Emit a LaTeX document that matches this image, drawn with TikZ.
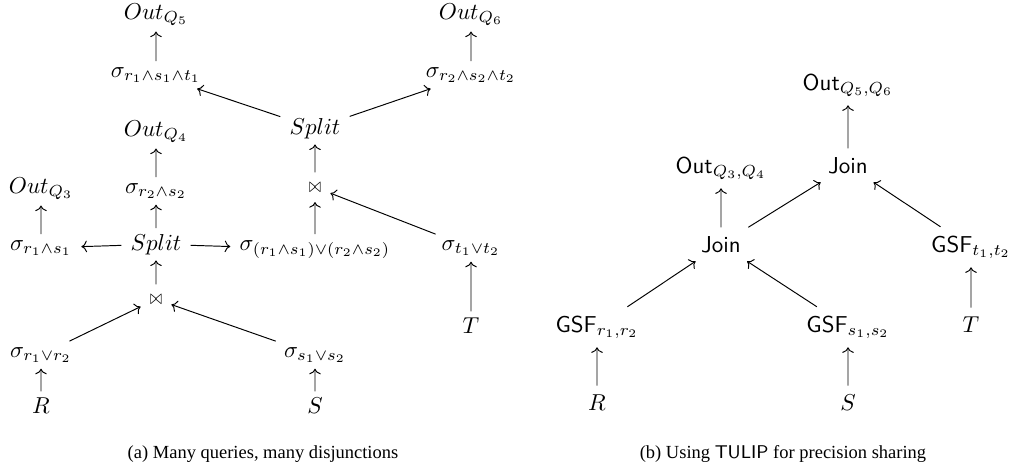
\documentclass[tikz,border=0pt]{standalone}
\usepackage{fontspec}
\usetikzlibrary{arrows.meta}
\newfontfamily\capfont{Liberation Serif}
\begin{document}
\begin{tikzpicture}[x=0.4653pt,y=-0.4653pt,
  n/.style={inner xsep=3.9pt,inner ysep=2.4pt,anchor=base,scale=1.07},
  nb/.style={inner xsep=3.9pt,inner ysep=3.6pt,anchor=base,scale=1.07},
  ar/.style={-{To[length=2.6pt,width=5.4pt]},line width=0.45pt},
  captext/.style={anchor=base,inner sep=0pt,font=\capfont\fontsize{8.6}{10}\selectfont}]
\useasboundingbox (0,0) rectangle (1010,466);
% ---------- (a) ----------
\node[n] (o5) at (156,19) {$Out_{Q_5}$};
\node[n] (s5) at (156,77) {$\sigma_{r_1\wedge s_1\wedge t_1}$};
\node[n] (o4) at (156,136) {$Out_{Q_4}$};
\node[n] (s4) at (156,193) {$\sigma_{r_2\wedge s_2}$};
\node[n] (spa) at (156,250) {$Split$};
\node[n,inner ysep=4.2pt] (ja) at (156,304) {\scalebox{0.62}[0.9]{$\bowtie$}};
\node[n] (o3) at (41,193) {$Out_{Q_3}$};
\node[n] (s3) at (41,250) {$\sigma_{r_1\wedge s_1}$};
\node[n] (srr) at (41,357) {$\sigma_{r_1\vee r_2}$};
\node[n] (ra) at (41,413) {$R$};
\node[n] (spb) at (315,134) {$Split$};
\node[n,inner ysep=4.2pt] (jb) at (315,192) {\scalebox{0.62}[0.9]{$\bowtie$}};
\node[n] (sor) at (315,250) {$\sigma_{(r_1\wedge s_1)\vee(r_2\wedge s_2)}$};
\node[n] (sss) at (315,357) {$\sigma_{s_1\vee s_2}$};
\node[n] (sa) at (315,413) {$S$};
\node[n] (o6) at (471,19) {$Out_{Q_6}$};
\node[n] (s6) at (471,77) {$\sigma_{r_2\wedge s_2\wedge t_2}$};
\node[n] (stt) at (471,250) {$\sigma_{t_1\vee t_2}$};
\node[n] (ta) at (471,333) {$T$};
\draw[ar] (s5) -- (o5);
\draw[ar] (s4) -- (o4);
\draw[ar] (spa) -- (s4);
\draw[ar] (spa) -- (s3);
\draw[ar] (spa) -- (sor);
\draw[ar] (s3) -- (o3);
\draw[ar] (ja) -- (spa);
\draw[ar] (srr) -- (ja);
\draw[ar] (sss) -- (ja);
\draw[ar] (ra) -- (srr);
\draw[ar] (sa) -- (sss);
\draw[ar] (sor) -- (jb);
\draw[ar] (stt) -- (jb);
\draw[ar] (jb) -- (spb);
\draw[ar] (spb) -- (s5);
\draw[ar] (spb) -- (s6);
\draw[ar] (s6) -- (o6);
\draw[ar] (ta) -- (stt);
\node[captext] (capa) at (263,458) {(a) Many queries, many disjunctions};
% ---------- (b) ----------
\node[nb] (o56) at (848,90) {$\mathsf{Out}_{Q_5,Q_6}$};
\node[nb] (jt) at (848,173) {$\mathsf{Join}$};
\node[nb] (o34) at (721,173) {$\mathsf{Out}_{Q_3,Q_4}$};
\node[nb] (jl) at (721,252) {$\mathsf{Join}$};
\node[nb] (gt) at (971,252) {$\mathsf{GSF}_{t_1,t_2}$};
\node[nb] (gr) at (597,332) {$\mathsf{GSF}_{r_1,r_2}$};
\node[nb] (gs) at (848,332) {$\mathsf{GSF}_{s_1,s_2}$};
\node[nb] (tb) at (971,332) {$T$};
\node[nb] (rb) at (597,410) {$R$};
\node[nb] (sb) at (848,410) {$S$};
\draw[ar] (jt) -- (o56);
\draw[ar] (jl) -- (o34);
\draw[ar] (jl) -- (jt);
\draw[ar] (gt) -- (jt);
\draw[ar] (gr) -- (jl);
\draw[ar] (gs) -- (jl);
\draw[ar] (rb) -- (gr);
\draw[ar] (sb) -- (gs);
\draw[ar] (tb) -- (gt);
\node[captext] (capb) at (783,458) {(b) Using \textsf{TULIP} for precision sharing};
\end{tikzpicture}
\end{document}
